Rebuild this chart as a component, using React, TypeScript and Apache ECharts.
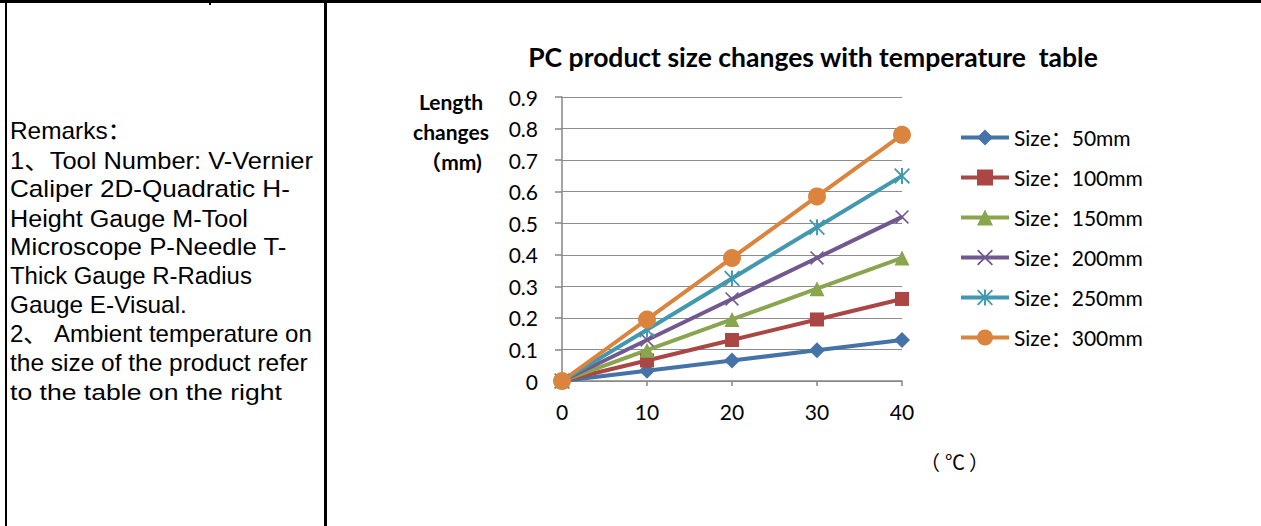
import React, { useEffect, useRef } from "react";
import * as echarts from "echarts";

const xValues = [0, 10, 20, 30, 40];
const seriesNames = ["Size：50mm", "Size：100mm", "Size：150mm", "Size：200mm", "Size：250mm", "Size：300mm"];
const size50 = [0, 0.0325, 0.065, 0.0975, 0.13];
const size100 = [0, 0.065, 0.13, 0.195, 0.26];
const size150 = [0, 0.0975, 0.195, 0.2925, 0.39];
const size200 = [0, 0.13, 0.26, 0.39, 0.52];
const size250 = [0, 0.1625, 0.325, 0.4875, 0.65];
const size300 = [0, 0.195, 0.39, 0.585, 0.78];
const seriesValues = [size50, size100, size150, size200, size250, size300];
const colors = ["#4572A7", "#AA4643", "#89A54E", "#71588F", "#4198AF", "#DB843D"];

const titleText = "PC product size changes with temperature  table";
const yAxisNameLines = ["Length", "changes", "（mm)"];
const xAxisUnitParts = ["（", "℃", "）"];
const remarksLines = [
  "Remarks：",
  "1、Tool Number: V-Vernier",
  "Caliper 2D-Quadratic H-",
  "Height Gauge M-Tool",
  "Microscope P-Needle T-",
  "Thick Gauge R-Radius",
  "Gauge E-Visual.",
  "2、 Ambient temperature on",
  "the size of the product refer",
  "to the table on the right",
];
// right edge (px) each remark line reaches in the layout
const remarksLineEnds = [132, 313, 290, 248, 287, 252, 187, 312, 308, 282];

const xPath =
  "path://M0,0.8L0.8,0L10,9.2L9.2,10Z M0.8,10L0,9.2L9.2,0L10,0.8Z";
const starPath =
  "path://M0,0.8L0.8,0L10,9.2L9.2,10Z M0.8,10L0,9.2L9.2,0L10,0.8Z M4.4,0L5.6,0L5.6,10L4.4,10Z";
const symbols = ["diamond", "rect", "triangle", xPath, starPath, "circle"];
const symbolSizes = [16, 14, 15, 14, 16, 18];

const chartFont = "Lato, 'Noto Sans CJK SC', sans-serif";
const remarkFont = "'Liberation Sans', Arial, 'Noto Sans CJK SC', sans-serif";
const remarkFontSize = 23;

export default function App() {
  const ref = useRef<HTMLDivElement>(null);
  useEffect(() => {
    if (!ref.current) return;
    const chart = echarts.init(ref.current, null, { renderer: "svg" });

    const canvas = document.createElement("canvas");
    const ctx = canvas.getContext("2d");
    if (ctx) ctx.font = `${remarkFontSize}px ${remarkFont}`;
    const remarkGraphics = remarksLines.map((line, i) => {
      let sx = 1;
      if (ctx) {
        const w = ctx.measureText(line).width;
        if (w > 0) sx = Math.max(0.9, Math.min(1.35, (remarksLineEnds[i] - 10) / w));
      }
      return {
        type: "text",
        x: 10,
        y: 131.5 + 29 * i,
        scaleX: sx,
        style: {
          text: line,
          fontFamily: remarkFont,
          fontSize: remarkFontSize,
          fill: "#000",
          align: "left",
          verticalAlign: "middle",
        },
      };
    });

    const option: any = {
      animation: false,
      backgroundColor: "#ffffff",
      textStyle: { fontFamily: chartFont },
      grid: { left: 562, right: 359, top: 97, bottom: 145, containLabel: false },
      xAxis: {
        type: "value",
        min: 0,
        max: 40,
        interval: 10,
        axisLine: { show: true, lineStyle: { color: "#868686", width: 1.5 } },
        axisTick: { show: true, length: 5, lineStyle: { color: "#868686", width: 1.5 } },
        splitLine: { show: false },
        axisLabel: { color: "#000", fontSize: 21, margin: 20, fontFamily: chartFont },
      },
      yAxis: {
        type: "value",
        min: 0,
        max: 0.9,
        interval: 0.1,
        axisLine: { show: true, lineStyle: { color: "#868686", width: 1.5 } },
        axisTick: { show: true, length: 7, lineStyle: { color: "#868686", width: 1.5 } },
        splitLine: { show: true, lineStyle: { color: "#8c8c8c", width: 1.2 } },
        axisLabel: {
          color: "#000",
          fontSize: 21,
          margin: 24,
          fontFamily: chartFont,
          formatter: (v: number) => String(Math.round(v * 10) / 10),
        },
      },
      legend: {
        orient: "vertical",
        left: 959,
        top: 127,
        padding: 0,
        itemWidth: 48,
        itemHeight: 20,
        itemGap: 19,
        lineStyle: { width: 4 },
        textStyle: { color: "#000", fontSize: 21, lineHeight: 18, fontFamily: chartFont },
        data: seriesNames,
      },
      series: seriesNames.map((name, i) => ({
        name,
        type: "line",
        data: xValues.map((x, j) => [x, seriesValues[i][j]]),
        symbol: symbols[i],
        symbolSize: symbolSizes[i],
        showAllSymbol: true,
        lineStyle: { color: colors[i], width: 4 },
        itemStyle: { color: colors[i], borderWidth: 0 },
        emphasis: { disabled: true },
      })),
      graphic: [
        { type: "rect", shape: { x: 0, y: 0, width: 1261, height: 3 }, style: { fill: "#000" } },
        { type: "rect", shape: { x: 5, y: 0, width: 2, height: 526 }, style: { fill: "#000" } },
        { type: "rect", shape: { x: 324, y: 0, width: 3, height: 526 }, style: { fill: "#000" } },
        { type: "rect", shape: { x: 209, y: 0, width: 2, height: 5 }, style: { fill: "#000" } },
        ...remarkGraphics,
        {
          type: "text",
          x: 813,
          y: 57,
          style: {
            text: titleText,
            fontFamily: chartFont,
            fontWeight: "bold",
            fontSize: 26.5,
            fill: "#000",
            align: "center",
            verticalAlign: "middle",
          },
        },
        {
          type: "text",
          x: 451,
          y: 86,
          style: {
            text: yAxisNameLines.join("\n"),
            fontFamily: chartFont,
            fontWeight: "bold",
            fontSize: 21,
            lineHeight: 30,
            fill: "#000",
            align: "center",
            verticalAlign: "top",
          },
        },
        {
          type: "text",
          x: 940,
          y: 461,
          style: {
            text: xAxisUnitParts[0],
            fontFamily: "'Noto Sans CJK SC', sans-serif",
            fontSize: 20,
            fill: "#000",
            align: "right",
            verticalAlign: "middle",
          },
        },
        {
          type: "text",
          x: 955,
          y: 461,
          style: {
            text: xAxisUnitParts[1],
            fontFamily: "'Noto Sans CJK SC', sans-serif",
            fontSize: 20,
            fill: "#000",
            align: "center",
            verticalAlign: "middle",
          },
        },
        {
          type: "text",
          x: 969,
          y: 461,
          style: {
            text: xAxisUnitParts[2],
            fontFamily: "'Noto Sans CJK SC', sans-serif",
            fontSize: 20,
            fill: "#000",
            align: "left",
            verticalAlign: "middle",
          },
        },
      ],
    };
    chart.setOption(option);
    return () => chart.dispose();
  }, []);
  return (
    <div
      ref={ref}
      style={{ position: "absolute", left: 0, top: 0, width: 1261, height: 526 }}
    />
  );
}
